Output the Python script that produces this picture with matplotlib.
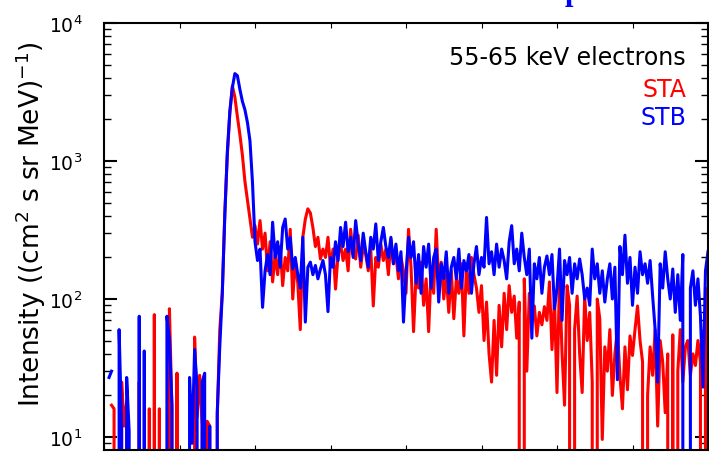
import numpy as np
import matplotlib
matplotlib.use("Agg")
import matplotlib.pyplot as plt
from matplotlib.ticker import LogLocator, MultipleLocator, NullFormatter

nan = np.nan

# 55-65 keV electron intensities, one sample every 1/30 of an x unit
sta = [nan, nan, nan, 17, 16, 0, 0, 25, 12, 18,
       0, 0, 0, 0, 25, 0, 0, 0, 16, 0,
       77, 0, 16, 0, 0, 0, 85, 16, 0, 29,
       0, 0, 0, 0, 0, 0, 53, 14, 28, 12,
       0, 13, 12, 0, 0, 14, 60, 110, 420, 1100,
       2200, 3500, 2900, 2100, 1550, 1100, 710, 520, 380, 280,
       340, 250, 370, 230, 300, 160, 260, 133, 210, 150,
       240, 125, 200, 160, 320, 100, 190, 130, 60, 280,
       380, 450, 420, 330, 240, 280, 195, 230, 200, 280,
       170, 230, 118, 210, 250, 190, 230, 160, 320, 210,
       195, 290, 170, 240, 210, 160, 230, 89, 200, 170,
       250, 190, 230, 150, 270, 180, 210, 140, 200, 160,
       110, 320, 170, 58, 150, 120, 185, 90, 140, 58,
       170, 110, 320, 130, 185, 100, 150, 80, 160, 72,
       140, 110, 180, 54, 170, 110, 200, 150, 120, 80,
       125, 50, 95, 40, 25, 70, 28, 90, 45, 110,
       60, 125, 80, 105, 52, 95, 0, 140, 30, 110,
       70, 89, 54, 80, 65, 88, 70, 133, 43, 100,
       21, 140, 41, 17, 125, 90, 0, 60, 105, 40,
       21, 105, 50, 80, 25, 0, 100, 72, 9.6, 45,
       30, 60, 20, 40, 60, 28, 16, 45, 22, 54,
       39, 60, 89, 50, 35, 0, 20, 45, 28, 60,
       12, 50, 35, 15, 40, 0, 55, 0, 30, 60,
       25, 45, 50, 28, 40, 33, 50, 35, 0, 120,
       0]

stb = [nan, nan, 27, 30, nan, 0, 60, 12, 0, 27,
       11, 0, 0, 0, 75, 0, 42, 0, 0, 0,
       0, 0, 0, 0, 0, 75, 51, 17, 0, 0,
       0, 0, 0, 0, 27, 9, 43, 23, 0, 25,
       29, 0, 12, 0, 0, 15, 45, 110, 400, 1160,
       2300, 3400, 4300, 4150, 3300, 2700, 2350, 1900, 1400, 700,
       260, 190, 230, 87, 160, 210, 150, 360, 200, 260,
       170, 330, 380, 230, 280, 165, 200, 150, 120, 280,
       68, 170, 185, 150, 175, 140, 165, 190, 150, 81,
       200, 170, 260, 190, 330, 240, 360, 220, 280, 200,
       370, 250, 190, 300, 220, 170, 280, 230, 350, 190,
       260, 330, 240, 200, 280, 180, 250, 160, 220, 68,
       150, 280, 200, 260, 130, 210, 110, 240, 170, 250,
       120, 200, 230, 95, 180, 140, 220, 110, 170, 200,
       140, 230, 120, 190, 160, 210, 110, 180, 240, 150,
       200, 170, 390, 180, 220, 150, 250, 170, 230, 190,
       140, 260, 340, 180, 230, 160, 300, 200, 150, 230,
       52, 180, 140, 200, 110, 170, 205, 150, 210, 85,
       120, 230, 70, 190, 150, 200, 110, 180, 140, 195,
       150, 100, 120, 90, 230, 140, 180, 110, 160, 95,
       140, 180, 100, 170, 26, 240, 150, 290, 130, 200,
       90, 170, 110, 220, 150, 180, 130, 190, 105, 60,
       25, 180, 120, 220, 140, 100, 165, 80, 150, 70,
       210, 0, 0, 120, 160, 90, 140, 75, 23, 160,
       220]

t = np.arange(len(sta)) / 30.0

fig = plt.figure(figsize=(7.09, 4.56), dpi=100)
ax = fig.add_axes([104 / 709, 5 / 456, 604 / 709, 427 / 456])

ax.plot(t, sta, color="red", lw=2.2)
ax.plot(t, stb, color="blue", lw=2.2)

ax.set_yscale("log")
ax.set_xlim(0, 8)
ax.set_ylim(8.05, 1e4)

ax.xaxis.set_major_locator(MultipleLocator(1))
ax.xaxis.set_major_formatter(NullFormatter())
ax.yaxis.set_major_locator(LogLocator(base=10))
ax.yaxis.set_minor_locator(LogLocator(base=10, subs=np.arange(2, 10)))
ax.yaxis.set_minor_formatter(NullFormatter())

ax.tick_params(axis="both", which="both", direction="in", top=True, right=True)
ax.tick_params(axis="x", which="major", length=3.6, width=0.8)
ax.tick_params(axis="y", which="major", length=9.4, width=1.5, pad=15.5, labelsize=13.5)
ax.tick_params(axis="y", which="minor", length=5, width=1)
for sp in ax.spines.values():
    sp.set_linewidth(1.5)

ax.set_ylabel(r"Intensity ((cm$^2$ s sr MeV)$^{-1}$)", fontsize=19)
ax.yaxis.set_label_coords(-0.093, 0.532)

ax.text(0.9636, 0.904, "55-65 keV electrons", transform=ax.transAxes,
        ha="right", va="baseline", fontsize=17, color="black")
ax.text(0.9636, 0.829, "STA", transform=ax.transAxes,
        ha="right", va="baseline", fontsize=17, color="red")
ax.text(0.9636, 0.763, "STB", transform=ax.transAxes,
        ha="right", va="baseline", fontsize=17, color="blue")

# panel title sits above the frame, mostly cut off by the figure edge
fig.text(565 / 709, 1.0, "p", ha="left", va="baseline", color="blue",
         fontsize=22, fontweight="bold", family="Liberation Serif")

fig.savefig("out.png", dpi=100)
